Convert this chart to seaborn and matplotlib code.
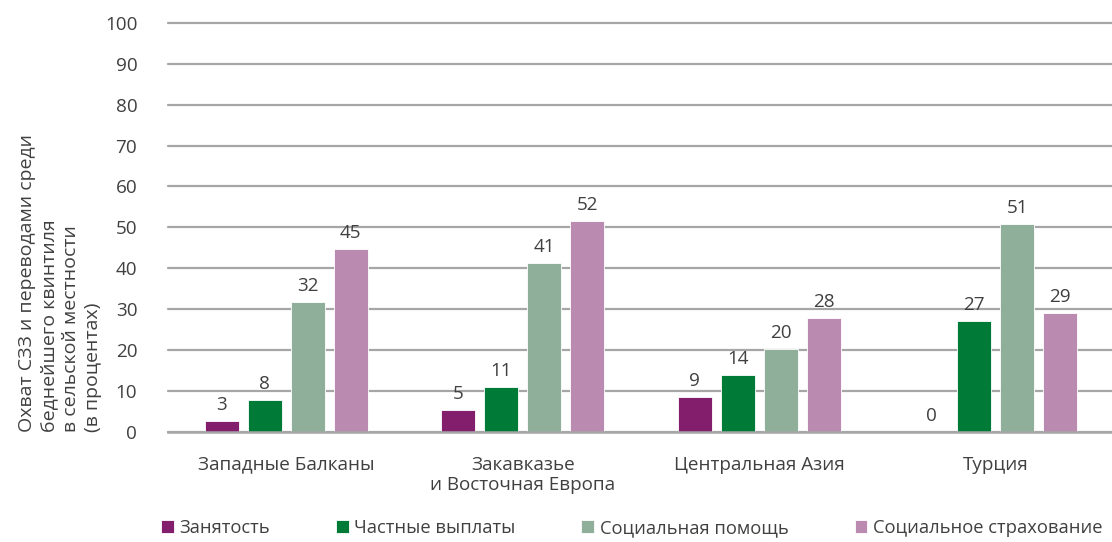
import pandas as pd
import matplotlib.pyplot as plt
import seaborn as sns

# Data
regions = ["Западные Балканы", "Закавказье\nи Восточная Европа",
           "Центральная Азия", "Турция"]
programs = ["Занятость", "Частные выплаты", "Социальная помощь",
            "Социальное страхование"]
employment = [2.7, 5.4, 8.6, 0.0]
private_transfers = [7.8, 11.0, 13.9, 27.1]
social_assistance = [31.8, 41.3, 20.3, 50.9]
social_insurance = [44.7, 51.6, 27.9, 29.1]
y_ticks = [0, 10, 20, 30, 40, 50, 60, 70, 80, 90, 100]
y_label = ("Охват СЗЗ и переводами среди\nбеднейшего квинтиля\n"
           "в сельской местности\n(в процентах)")

colors = ["#821E6B", "#007A37", "#8FAF9A", "#BB8AB0"]

df = pd.DataFrame({
    "region": regions * 4,
    "program": [p for p in programs for _ in regions],
    "value": employment + private_transfers + social_assistance + social_insurance,
})

sns.set_theme(style="white")
plt.rcParams["font.family"] = ["Open Sans", "DejaVu Sans"]
text_color = "#404040"
fs = 13.6

fig = plt.figure(figsize=(11.12, 5.42), dpi=100)
ax = fig.add_axes([0.151, 0.203, 0.851, 0.755])

sns.barplot(data=df, x="region", y="value", hue="program", hue_order=programs,
            order=regions, palette=colors, saturation=1, width=0.727, gap=0.21,
            edgecolor="white", linewidth=0.6, errorbar=None, ax=ax)

for cont in ax.containers:
    ax.bar_label(cont, labels=[f"{v:.0f}" for v in cont.datavalues],
                 padding=5, fontsize=fs, color=text_color)

ax.set_ylim(0, 100)
ax.set_xlim(-0.5, 3.5)
ax.set_yticks(y_ticks)
ax.yaxis.grid(True, color="#A6A6A6", linewidth=1.6)
ax.set_axisbelow(True)
for side in ["left", "right", "top"]:
    ax.spines[side].set_visible(False)
ax.spines["bottom"].set_color("#A6A6A6")
ax.spines["bottom"].set_linewidth(1.8)
for gl in ax.get_ygridlines():
    gl.set_clip_on(False)

ax.tick_params(axis="y", length=0, pad=22, labelsize=fs, labelcolor=text_color)
ax.tick_params(axis="x", length=0, pad=17, labelsize=fs, labelcolor=text_color)
ax.set_xlabel("")
ax.set_ylabel("")

fig.text(0.054, 0.203, y_label, rotation=90, ha="center", va="bottom",
         multialignment="left", fontsize=14, color=text_color,
         linespacing=1.3)

handles, labels = ax.get_legend_handles_labels()
ax.get_legend().remove()
fig.legend(handles, labels, loc="center", bbox_to_anchor=(0.568, 0.026),
           ncol=4, frameon=False, fontsize=13.2, handlelength=0.7,
           handleheight=0.7, handletextpad=0.3, columnspacing=3.6,
           labelcolor=text_color)

fig.savefig("out.png", dpi=100)
